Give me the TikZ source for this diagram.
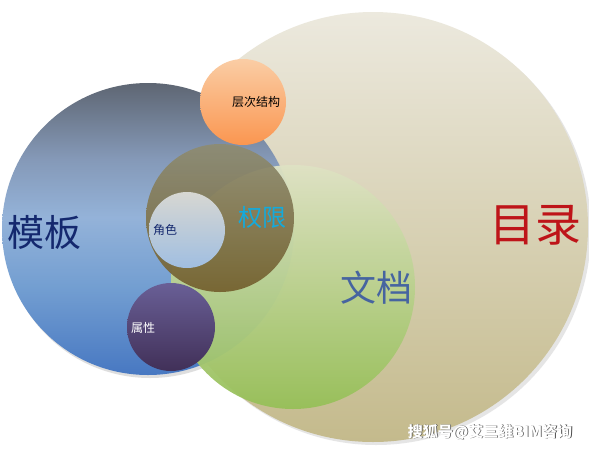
\documentclass[tikz,border=0pt]{standalone}
\usepackage{fontspec}
\newfontfamily\cjk{Noto Sans CJK SC}
\definecolor{bigTop}{RGB}{236,233,222}
\definecolor{bigBot}{RGB}{196,186,140}
\definecolor{docTop}{RGB}{222,226,196}
\definecolor{docBot}{RGB}{150,192,88}
\definecolor{perTop}{RGB}{142,140,114}
\definecolor{perBot}{RGB}{116,96,46}
\definecolor{roleTop}{RGB}{215,215,210}
\definecolor{roleBot}{RGB}{160,190,225}
\definecolor{orTop}{RGB}{250,205,165}
\definecolor{orBot}{RGB}{250,150,80}
\definecolor{puTop}{RGB}{105,95,150}
\definecolor{puBot}{RGB}{65,48,88}
\definecolor{redT}{RGB}{190,20,25}
\definecolor{blueT}{RGB}{20,40,110}
\definecolor{docT}{RGB}{70,100,160}
\definecolor{cyanT}{RGB}{20,170,220}
\pgfdeclareverticalshading{tmplshade}{100bp}{%
  rgb(0bp)=(0.28,0.47,0.76); rgb(25bp)=(0.28,0.47,0.76);
  rgb(40bp)=(0.45,0.62,0.82); rgb(52bp)=(0.58,0.70,0.85);
  rgb(62bp)=(0.52,0.60,0.72); rgb(75bp)=(0.37,0.40,0.45);
  rgb(100bp)=(0.37,0.40,0.45)}
\tikzset{lbl/.style={font=\cjk, inner sep=0pt}}
\begin{document}
\begin{tikzpicture}[x=1pt,y=-1pt]
\useasboundingbox[fill=white] (0,0) rectangle (589,448);
% big circle
\fill[black!20,opacity=0.5] (376,230) circle (215);
\shade[top color=bigTop, bottom color=bigBot] (373,227) circle (215);
% template
\fill[black!25,opacity=0.5] (150,232) circle (146);
\shade[shading=tmplshade] (148,229) circle (146);
% document
\shade[top color=docTop, bottom color=docBot, opacity=0.95] (293,287) circle (122);
% permission
\shade[top color=perTop, bottom color=perBot, opacity=0.93] (220,218) circle (74);
% role
\shade[top color=roleTop, bottom color=roleBot] (187,230) circle (38);
% orange
\shade[top color=orTop, bottom color=orBot] (243,102) circle (43);
% purple
\shade[top color=puTop, bottom color=puBot] (171,327) circle (44);
% labels
\node[lbl, text=redT, font=\cjk\fontsize{46}{46}\selectfont] (mulu) at (535,225) {目录};
\node[lbl, text=blueT, font=\cjk\fontsize{37}{37}\selectfont] (muban) at (45,232) {模板};
\node[lbl, text=docT, font=\cjk\fontsize{36}{36}\selectfont] (wendang) at (376,288) {文档};
\node[lbl, text=cyanT, font=\cjk\fontsize{24}{24}\selectfont] (quanxian) at (262,217) {权限};
\node[lbl, text=blueT, font=\cjk\fontsize{12}{12}\selectfont] (juese) at (165,230) {角色};
\node[lbl, text=black, font=\cjk\fontsize{12}{12}\selectfont] (cengci) at (256,102) {层次结构};
\node[lbl, text=white, font=\cjk\fontsize{12}{12}\selectfont] (shuxing) at (143,328) {属性};
% watermark
\node[lbl, text=white, opacity=0.6, font=\cjk\fontsize{11}{11}\selectfont] (wm2) at (537,414) {广州君和};
\node[lbl, text=black!70, font=\cjk\bfseries\fontsize{15}{15}\selectfont] at (490.8,432.8) {搜狐号@艾三维BIM咨询};
\node[lbl, text=white, font=\cjk\bfseries\fontsize{15}{15}\selectfont] (wm) at (490,432) {搜狐号@艾三维BIM咨询};
\end{tikzpicture}
\end{document}
